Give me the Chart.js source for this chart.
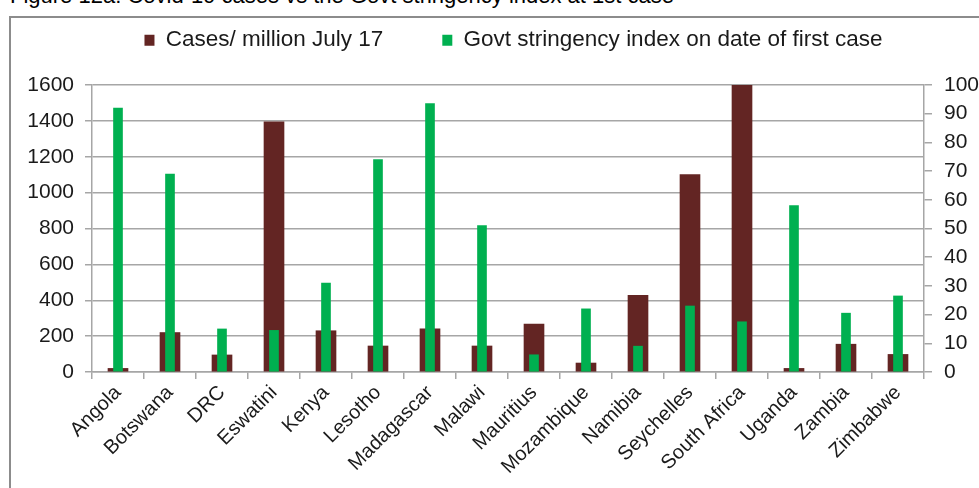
<!DOCTYPE html>
<html>
<head>
<meta charset="utf-8">
<script src="https://cdn.jsdelivr.net/npm/chart.js@4.4.1/dist/chart.umd.min.js"></script>
<style>
  html, body { margin: 0; padding: 0; width: 979px; height: 488px; overflow: hidden; background: #fff; }
  #fig-title { position: absolute; left: 10px; top: -15px; font: 22px "Liberation Sans", Arial, sans-serif; line-height: 22px; color: #000; white-space: nowrap; }
  #frame { position: absolute; left: 9px; top: 16px; width: 1100px; height: 600px; border: 2px solid #8c8c8c; box-sizing: border-box; }
  #chart { position: absolute; left: 0; top: -30px; }
</style>
</head>
<body>
<div id="fig-title">Figure 12a: Covid-19 cases vs the Govt stringency index at 1st case</div>
<div id="frame"></div>
<canvas id="chart" width="1027" height="518"></canvas>
<script>
const countries = ['Angola', 'Botswana', 'DRC', 'Eswatini', 'Kenya', 'Lesotho', 'Madagascar', 'Malawi',
  'Mauritius', 'Mozambique', 'Namibia', 'Seychelles', 'South Africa', 'Uganda', 'Zambia', 'Zimbabwe'];
const casesPerMillion = [20, 220, 95, 1395, 230, 145, 240, 145, 267, 50, 427, 1100, 1600, 20, 155, 98];
const stringencyIndex = [92, 69, 15, 14.5, 31, 74, 93.5, 51, 6, 22, 9, 23, 17.5, 58, 20.5, 26.5];
const casesAxis = { max: 1600, step: 200 };
const indexAxis = { max: 100, step: 10 };

const FONT = '"Liberation Sans", Arial, sans-serif';
const TEXT = '#1a1a1a';
const GRID = '#a6a6a6';

// keep a fixed band above the plot for the legend
const legendBand = {
  id: 'legendBand',
  beforeInit(chart) {
    const fit = chart.legend.fit;
    chart.legend.fit = function () {
      fit.call(this);
      this.height = 115;
    };
  }
};

const plainNumber = value => String(value);

new Chart(document.getElementById('chart'), {
  type: 'bar',
  data: {
    labels: countries,
    datasets: [
      {
        label: 'Cases/ million July 17',
        data: casesPerMillion,
        yAxisID: 'y',
        backgroundColor: '#632523',
        barThickness: 20,
        grouped: false,
        order: 1
      },
      {
        label: 'Govt stringency index on date of first case',
        data: stringencyIndex,
        yAxisID: 'y1',
        backgroundColor: '#00b050',
        barThickness: 9,
        grouped: false,
        order: 0
      }
    ]
  },
  options: {
    responsive: false,
    animation: false,
    layout: { padding: 0 },
    plugins: {
      tooltip: { enabled: false },
      legend: {
        position: 'top',
        labels: {
          font: { family: FONT, size: 22.5 },
          color: TEXT,
          boxWidth: 10,
          boxHeight: 11,
          padding: 59,
          sort: (a, b) => a.datasetIndex - b.datasetIndex
        }
      }
    },
    scales: {
      x: {
        offset: true,
        grid: { offset: true, drawOnChartArea: false, color: GRID, lineWidth: 1.5, tickLength: 7 },
        border: { color: GRID, width: 1.5 },
        ticks: {
          autoSkip: false,
          minRotation: 45,
          maxRotation: 45,
          padding: 2,
          color: TEXT,
          font: { family: FONT, size: 20 }
        },
        afterFit(scale) { scale.height = 116; }
      },
      y: {
        position: 'left',
        min: 0,
        max: casesAxis.max,
        grid: { color: GRID, lineWidth: 1.5, tickLength: 7 },
        border: { color: GRID, width: 1.5 },
        ticks: { stepSize: casesAxis.step, padding: 11, color: TEXT, font: { family: FONT, size: 21 }, callback: plainNumber },
        afterFit(scale) { scale.width = 92; }
      },
      y1: {
        position: 'right',
        min: 0,
        max: indexAxis.max,
        grid: { drawOnChartArea: false, color: GRID, lineWidth: 1.5, tickLength: 8 },
        border: { color: GRID, width: 1.5 },
        ticks: { stepSize: indexAxis.step, padding: 12, color: TEXT, font: { family: FONT, size: 21 }, callback: plainNumber },
        afterFit(scale) { scale.width = 103; }
      }
    }
  },
  plugins: [legendBand]
});
</script>
</body>
</html>
